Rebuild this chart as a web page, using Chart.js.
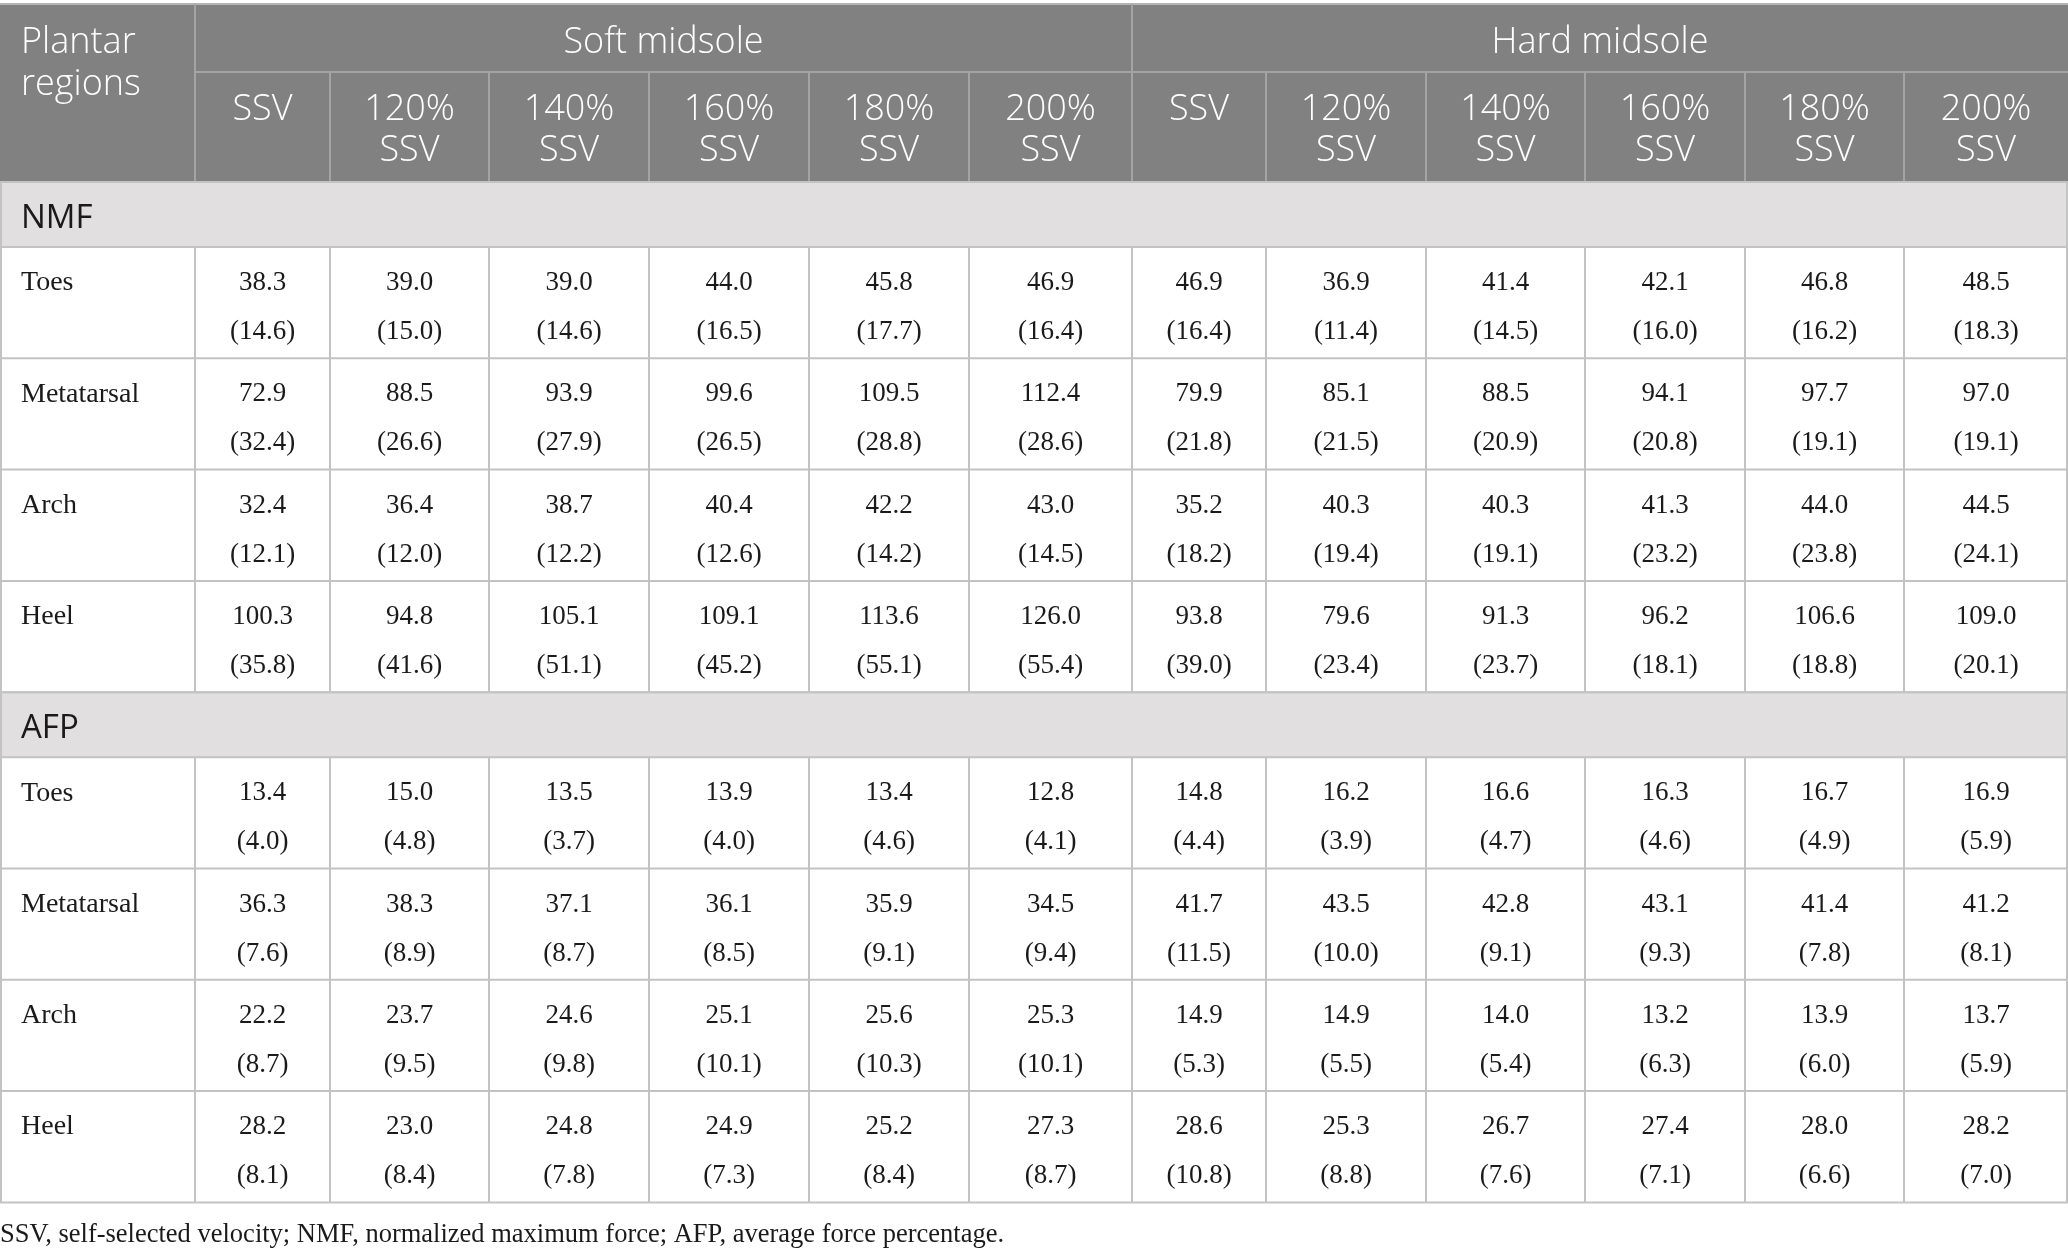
<!DOCTYPE html>
<html>
<head>
<meta charset="utf-8">
<script src="https://cdn.jsdelivr.net/npm/chart.js@4.4.1/dist/chart.umd.min.js"></script>
<style>
html, body { margin: 0; padding: 0; background: #fff; }
#wrap { width: 2068px; height: 1256px; }
</style>
</head>
<body>
<div id="wrap"><canvas id="tableChart" width="2068" height="1256"></canvas></div>
<script>
// table text
const stubHeader = ["Plantar", "regions"];
const midsoles = ["Soft midsole", "Hard midsole"];
const speeds = ["SSV", "120%\nSSV", "140%\nSSV", "160%\nSSV", "180%\nSSV", "200%\nSSV"];
const measures = ["NMF", "AFP"];
const regions = ["Toes", "Metatarsal", "Arch", "Heel"];
const footnote = "SSV, self-selected velocity; NMF, normalized maximum force; AFP, average force percentage.";

// values: soft midsole (6 speeds) then hard midsole (6 speeds)
const nmfToes = [38.3, 39.0, 39.0, 44.0, 45.8, 46.9, 46.9, 36.9, 41.4, 42.1, 46.8, 48.5];
const nmfToesSD = [14.6, 15.0, 14.6, 16.5, 17.7, 16.4, 16.4, 11.4, 14.5, 16.0, 16.2, 18.3];
const nmfMeta = [72.9, 88.5, 93.9, 99.6, 109.5, 112.4, 79.9, 85.1, 88.5, 94.1, 97.7, 97.0];
const nmfMetaSD = [32.4, 26.6, 27.9, 26.5, 28.8, 28.6, 21.8, 21.5, 20.9, 20.8, 19.1, 19.1];
const nmfArch = [32.4, 36.4, 38.7, 40.4, 42.2, 43.0, 35.2, 40.3, 40.3, 41.3, 44.0, 44.5];
const nmfArchSD = [12.1, 12.0, 12.2, 12.6, 14.2, 14.5, 18.2, 19.4, 19.1, 23.2, 23.8, 24.1];
const nmfHeel = [100.3, 94.8, 105.1, 109.1, 113.6, 126.0, 93.8, 79.6, 91.3, 96.2, 106.6, 109.0];
const nmfHeelSD = [35.8, 41.6, 51.1, 45.2, 55.1, 55.4, 39.0, 23.4, 23.7, 18.1, 18.8, 20.1];

const afpToes = [13.4, 15.0, 13.5, 13.9, 13.4, 12.8, 14.8, 16.2, 16.6, 16.3, 16.7, 16.9];
const afpToesSD = [4.0, 4.8, 3.7, 4.0, 4.6, 4.1, 4.4, 3.9, 4.7, 4.6, 4.9, 5.9];
const afpMeta = [36.3, 38.3, 37.1, 36.1, 35.9, 34.5, 41.7, 43.5, 42.8, 43.1, 41.4, 41.2];
const afpMetaSD = [7.6, 8.9, 8.7, 8.5, 9.1, 9.4, 11.5, 10.0, 9.1, 9.3, 7.8, 8.1];
const afpArch = [22.2, 23.7, 24.6, 25.1, 25.6, 25.3, 14.9, 14.9, 14.0, 13.2, 13.9, 13.7];
const afpArchSD = [8.7, 9.5, 9.8, 10.1, 10.3, 10.1, 5.3, 5.5, 5.4, 6.3, 6.0, 5.9];
const afpHeel = [28.2, 23.0, 24.8, 24.9, 25.2, 27.3, 28.6, 25.3, 26.7, 27.4, 28.0, 28.2];
const afpHeelSD = [8.1, 8.4, 7.8, 7.3, 8.4, 8.7, 10.8, 8.8, 7.6, 7.1, 6.6, 7.0];

const tableMeans = [[nmfToes, nmfMeta, nmfArch, nmfHeel], [afpToes, afpMeta, afpArch, afpHeel]];
const tableSDs = [[nmfToesSD, nmfMetaSD, nmfArchSD, nmfHeelSD], [afpToesSD, afpMetaSD, afpArchSD, afpHeelSD]];

// layout (canvas pixels)
const W = 2068, H = 1256;
const colEdges = [0, 195, 330, 489, 649, 809, 969, 1132, 1266, 1426, 1585, 1745, 1904, 2068];
const headTop = 4, groupLine = 72, headBottom = 182;
const bandH = 65, rowH = 111.3;
const meanOffset = 36, sdOffset = 85;

const headFont = "300 36px 'Open Sans'";
const bandFont = "33px 'Open Sans'";
const cellFont = "27px 'Liberation Serif'";
const labelFont = "28px 'Liberation Serif'";

// row tops worked out from the layout
const bandTops = [];
const rowTops = [];
let yy = headBottom;
measures.forEach((m, mi) => {
    bandTops.push(yy);
    yy += bandH;
    rowTops.push([]);
    regions.forEach(() => { rowTops[mi].push(yy); yy += rowH; });
});
const tableBottom = yy;

const colCenter = c => (colEdges[c + 1] + colEdges[c + 2]) / 2;

const meanPoints = [];
const sdPoints = [];
measures.forEach((m, mi) => {
    regions.forEach((r, ri) => {
        tableMeans[mi][ri].forEach((v, c) => {
            meanPoints.push({ x: colCenter(c), y: rowTops[mi][ri] + meanOffset, v: v.toFixed(1) });
        });
        tableSDs[mi][ri].forEach((v, c) => {
            sdPoints.push({ x: colCenter(c), y: rowTops[mi][ri] + sdOffset, v: "(" + v.toFixed(1) + ")" });
        });
    });
});

const tableGrid = {
    id: 'tableGrid',
    beforeDatasetsDraw(chart) {
        const ctx = chart.ctx;
        const x = chart.scales.x, y = chart.scales.y;
        const px = v => x.getPixelForValue(v), py = v => y.getPixelForValue(v);
        const hline = (x0, x1, y0, col, w) => {
            ctx.strokeStyle = col; ctx.lineWidth = w;
            ctx.beginPath(); ctx.moveTo(px(x0), py(y0)); ctx.lineTo(px(x1), py(y0)); ctx.stroke();
        };
        const vline = (x0, y0, y1, col, w) => {
            ctx.strokeStyle = col; ctx.lineWidth = w;
            ctx.beginPath(); ctx.moveTo(px(x0), py(y0)); ctx.lineTo(px(x0), py(y1)); ctx.stroke();
        };
        ctx.save();
        // header block
        ctx.fillStyle = '#808180';
        ctx.fillRect(px(0), py(headTop), px(W) - px(0), py(headBottom) - py(headTop));
        const hc = '#a3a4a3';
        hline(0, W, headTop, '#b5b5b5', 2);
        hline(colEdges[1], W, groupLine, hc, 2);
        vline(colEdges[1], headTop, headBottom, hc, 2);
        vline(colEdges[7], headTop, headBottom, hc, 2);
        for (let c = 2; c < colEdges.length - 1; c++) {
            if (c !== 7) vline(colEdges[c], groupLine, headBottom, hc, 2);
        }
        // section bands
        ctx.fillStyle = '#e1dfe0';
        bandTops.forEach(t => ctx.fillRect(px(0), py(t), px(W) - px(0), py(t + bandH) - py(t)));
        // body grid
        const gc = '#c3c3c3';
        bandTops.forEach(t => { hline(0, W, t, gc, 2); hline(0, W, t + bandH, gc, 2); });
        rowTops.forEach(list => list.forEach(t => {
            hline(0, W, t + rowH, gc, 2);
            colEdges.slice(1, -1).forEach(e => vline(e, t, t + rowH, gc, 2));
        }));
        vline(1, headBottom, tableBottom, gc, 2);
        vline(W - 1, headBottom, tableBottom, gc, 2);

        // header text
        ctx.fillStyle = '#ffffff';
        ctx.font = headFont;
        ctx.textBaseline = 'middle';
        ctx.textAlign = 'left';
        ctx.fillText(stubHeader[0], px(21), py(43));
        ctx.fillText(stubHeader[1], px(21), py(85));
        ctx.textAlign = 'center';
        midsoles.forEach((m, i) => {
            ctx.fillText(m, (px(colEdges[1 + i * 6]) + px(colEdges[7 + i * 6])) / 2, py(43));
        });
        for (let c = 0; c < 12; c++) {
            const lines = speeds[c % 6].split('\n');
            lines.forEach((l, li) => ctx.fillText(l, px(colCenter(c)), py(110 + li * 41)));
        }
        // band labels
        ctx.fillStyle = '#1a1a1a';
        ctx.font = bandFont;
        ctx.textAlign = 'left';
        measures.forEach((m, i) => ctx.fillText(m, px(21), py(bandTops[i] + bandH / 2 + 4)));
        // row labels
        ctx.font = labelFont;
        rowTops.forEach(list => list.forEach((t, ri) => ctx.fillText(regions[ri], px(21), py(t + meanOffset))));
        // footnote
        ctx.font = "26.5px 'Liberation Serif'";
        ctx.fillText(footnote, px(0), py(1235));
        ctx.restore();
    }
};

const cellText = {
    id: 'cellText',
    afterDatasetsDraw(chart) {
        const ctx = chart.ctx;
        ctx.save();
        ctx.font = cellFont;
        ctx.fillStyle = '#1a1a1a';
        ctx.textAlign = 'center';
        ctx.textBaseline = 'middle';
        chart.data.datasets.forEach((ds, di) => {
            chart.getDatasetMeta(di).data.forEach((el, i) => {
                ctx.fillText(ds.data[i].v, el.x, el.y);
            });
        });
        ctx.restore();
    }
};

const config = {
    type: 'scatter',
    data: {
        datasets: [
            { label: 'Mean', data: meanPoints, pointRadius: 0, clip: false },
            { label: 'SD', data: sdPoints, pointRadius: 0, clip: false }
        ]
    },
    options: {
        responsive: false,
        devicePixelRatio: 1,
        animation: false,
        layout: { padding: 0 },
        plugins: { legend: { display: false }, tooltip: { enabled: false } },
        scales: {
            x: { type: 'linear', min: 0, max: W, display: false },
            y: { type: 'linear', min: 0, max: H, reverse: true, display: false }
        }
    },
    plugins: [tableGrid, cellText]
};

const tableChart = new Chart(document.getElementById('tableChart'), config);
</script>
</body>
</html>
